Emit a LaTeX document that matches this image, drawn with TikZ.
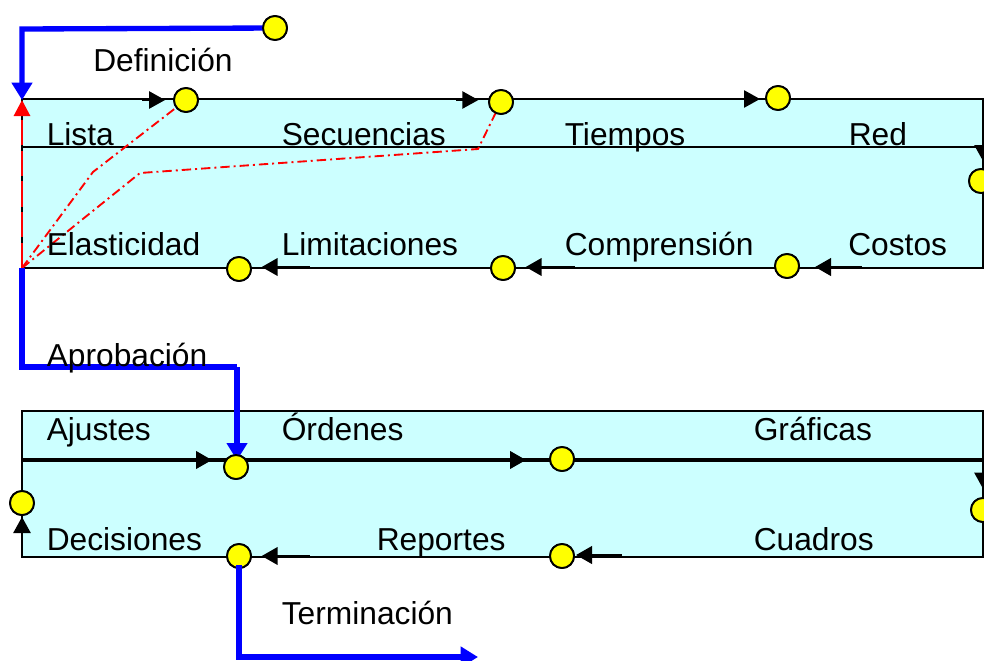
\documentclass[tikz,border=0pt]{standalone}
\usepackage{fontspec}
\setmainfont{Liberation Sans}
\usetikzlibrary{arrows.meta}
\definecolor{boxcyan}{HTML}{CCFFFF}
\definecolor{dotyellow}{HTML}{FFFF00}
\definecolor{flowblue}{HTML}{0000FF}
\definecolor{flowred}{HTML}{FF0000}
\tikzset{
  x=0.75pt,y=-0.75pt,
  panel/.style={draw=black,fill=boxcyan,line width=1.1pt},
  divider/.style={draw=black,line width=1.1pt},
  thickdivider/.style={draw=black,line width=2.4pt},
  dot/.style={circle,draw=black,fill=dotyellow,line width=1.4pt,minimum size=18pt,inner sep=0pt},
  lab/.style={anchor=base west,inner sep=0pt,font=\fontsize{23.8pt}{26pt}\selectfont},
  stub/.style={draw=black,line width=1.1pt,-{Triangle[length=12pt,width=13pt]}},
  stubthick/.style={draw=black,line width=2.2pt,-{Triangle[length=12pt,width=13pt]}},
  flow/.style={draw=flowblue,line width=4pt,-{Triangle[length=13pt,width=15pt]}},
  flowplain/.style={draw=flowblue,line width=4pt},
  redarrow/.style={draw=flowred,line width=2.2pt,dash pattern=on 19pt off 4pt,-{Triangle[length=12pt,width=12pt]}},
  reddash/.style={draw=flowred,line width=1.4pt,dash pattern=on 7pt off 3pt on 1.5pt off 3pt},
}
\begin{document}
\begin{tikzpicture}
\useasboundingbox (0,0) rectangle (984,660);
% panels
\draw[panel] (22,99) rectangle (983,268);
\draw[divider] (22,147) -- (983,147);
\draw[panel] (22,411) rectangle (983,557);
\draw[thickdivider] (22,460) -- (983,460);
% free points
\coordinate (corner) at (22,268);
\coordinate (entry) at (22,100);
\coordinate (bendA) at (22,29);
\coordinate (appA) at (22,367);
\coordinate (appB) at (237,367);
\coordinate (termA) at (239,657);
\coordinate (termEnd) at (478,657);
\coordinate (termStart) at (239,565);
\coordinate (rA) at (93,172);
\coordinate (rB) at (140,173);
\coordinate (rC) at (478,149);
\coordinate (s1) at (142,100);
\coordinate (s2) at (456,100);
\coordinate (s3) at (737,99);
\coordinate (s4) at (983,140);
\coordinate (s5) at (862,267);
\coordinate (s6) at (575,267);
\coordinate (s7) at (310,267);
\coordinate (s8) at (190,460);
\coordinate (s9) at (505,460);
\coordinate (s10) at (983,468);
\coordinate (s11) at (622,555);
\coordinate (s12) at (310,556);
\coordinate (s13) at (22,557);
% dots placed first so connectors can name them; painted on top below
\path
  node[dot] (start) at (275,28) {}
  node[dot] (t1) at (186,100) {}
  node[dot] (t2) at (501,102) {}
  node[dot] (t3) at (778,98) {}
  node[dot] (t4) at (981,181) {}
  node[dot] (b1) at (787,266) {}
  node[dot] (b2) at (503,268) {}
  node[dot] (b3) at (239,269) {}
  node[dot] (c1) at (236,467) {}
  node[dot] (c2) at (562,459) {}
  node[dot] (c3) at (983,510) {}
  node[dot] (d1) at (562,556) {}
  node[dot] (d2) at (239,556) {}
  node[dot] (e1) at (22,503) {};
% red lines and blue flows beneath the dots
\draw[redarrow] (corner) -- (entry);
\draw[reddash] (corner) -- (rA) -- (t1);
\draw[reddash] (corner) -- (rB) -- (rC) -- (t2);
\draw[flow] (start.center) -- (bendA) -- (entry);
\draw[flowplain] (corner) -- (appA) -- (appB);
\draw[flow,shorten >=5pt] (appB) -- (appB |- c1);
% stub arrows
\draw[stub,shorten >=15.7pt] (s1) -- (s1 -| t1);
\draw[stub,shorten >=17pt] (s2) -- (s2 -| t2);
\draw[stub,shorten >=13.5pt] (s3) -- (s3 -| t3);
\draw[stub,shorten >=15pt] (s4) -- (s4 |- t4);
\draw[stubthick,shorten >=21pt] (s5) -- (s5 -| b1);
\draw[stubthick,shorten >=17pt] (s6) -- (s6 -| b2);
\draw[stubthick,shorten >=17pt] (s7) -- (s7 -| b3);
\draw[stubthick,shorten >=18pt] (s8) -- (s8 -| c1);
\draw[stubthick,shorten >=27pt] (s9) -- (s9 -| c2);
\draw[stub,shorten >=16pt] (s10) -- (s10 |- c3);
\draw[stubthick,shorten >=10.5pt] (s11) -- (s11 -| d1);
\draw[stubthick,shorten >=17pt] (s12) -- (s12 -| d2);
\draw[stub,shorten >=10.5pt] (s13) -- (e1.center);
% repaint dots on top
\foreach \p in {start,t1,t2,t3,t4,b1,b2,b3,c1,c2,c3,d1,d2,e1}
  \fill[dotyellow,draw=black,line width=1.4pt] (\p.center) circle[radius=9pt];
% blue termination over its dot
\draw[flow] (termStart) -- (termA) -- (termEnd);
% labels
\node[lab] (lDef) at (93,71) {Definición};
\node[lab] (l1) at (46.5,145) {Lista};
\node[lab] (l2) at (281.5,145) {Secuencias};
\node[lab] (l3) at (564.5,145) {Tiempos};
\node[lab] (l4) at (848.5,145) {Red};
\node[lab] (l5) at (46.5,255) {Elasticidad};
\node[lab] (l6) at (281.5,255) {Limitaciones};
\node[lab] (l7) at (564.5,255) {Comprensión};
\node[lab] (l8) at (848,255) {Costos};
\node[lab] (lApr) at (46.5,366) {Aprobación};
\node[lab] (l9) at (46.5,440) {Ajustes};
\node[lab] (l10) at (281.5,440) {Órdenes};
\node[lab] (l11) at (753.5,440) {Gráficas};
\node[lab] (l12) at (46.5,550) {Decisiones};
\node[lab] (l13) at (376.5,550) {Reportes};
\node[lab] (l14) at (753.5,550) {Cuadros};
\node[lab] (lTer) at (281.5,624) {Terminación};
\end{tikzpicture}
\end{document}
